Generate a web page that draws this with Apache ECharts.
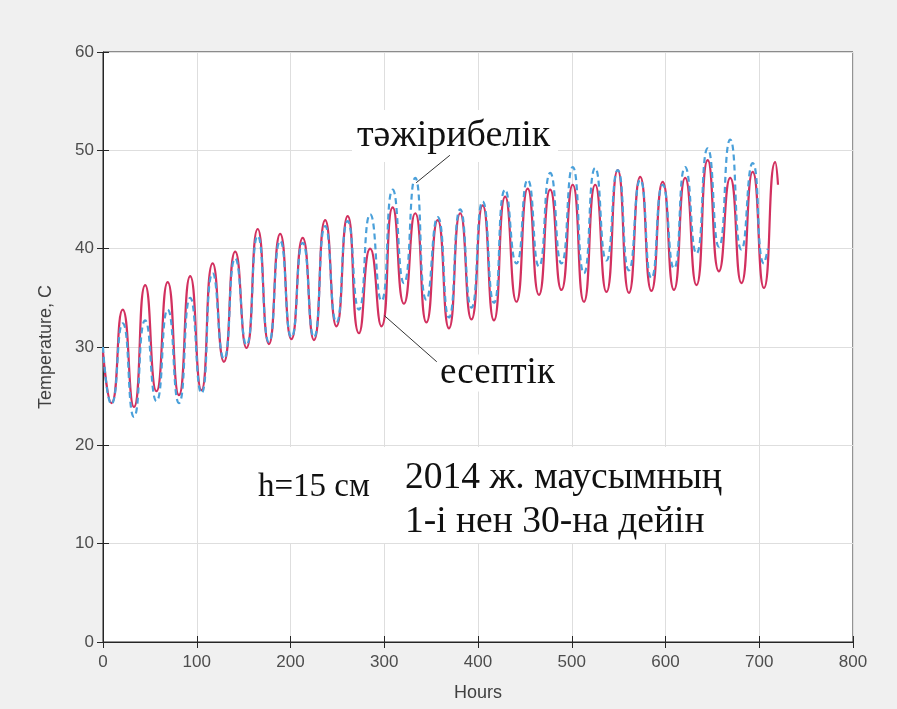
<!DOCTYPE html>
<html>
<head>
<meta charset="utf-8">
<script src="https://cdn.jsdelivr.net/npm/echarts@6/dist/echarts.min.js"></script>
<style>
  html, body { margin: 0; padding: 0; background: #f0f0f0; }
  #chart { width: 897px; height: 709px; }
</style>
</head>
<body>
<div id="chart"></div>
<script>
// computed curve (есептік): daily troughs and peaks
var calcHours = [0, 9, 21, 33, 45, 57, 69, 81, 93, 105, 117, 129, 141, 153, 165, 177, 189, 201, 213,
  225, 237, 249, 261, 273, 285, 297, 309, 321, 333, 345, 357, 369, 381, 393, 405, 417, 429, 441, 453,
  465, 477, 489, 501, 513, 525, 537, 549, 561, 573, 585, 597, 609, 621, 633, 645, 657, 669, 681, 693,
  705, 717, 720];
var calcTemp = [29.5, 24.3, 33.8, 23.9, 36.3, 25.5, 36.6, 25.1, 37.2, 25.6, 38.5, 28.5, 39.7, 29.9, 42.0,
  30.3, 41.5, 30.8, 41.1, 30.7, 42.9, 32.1, 43.3, 31.4, 40.0, 32.1, 44.2, 34.4, 43.6, 32.5, 42.9, 31.9,
  43.6, 32.8, 44.4, 32.7, 45.3, 34.6, 46.1, 35.3, 46.0, 35.8, 46.5, 34.6, 46.5, 35.6, 48.0, 35.5, 47.3,
  35.7, 46.8, 35.8, 47.2, 36.3, 49.0, 37.7, 47.2, 36.5, 47.8, 36.0, 48.8, 46.5];

// measured curve (тәжірибелік)
var expHours = [0, 9, 21, 33, 45, 57, 69, 81, 93, 105, 117, 129, 141, 153, 165, 177, 189, 201, 213,
  225, 237, 249, 261, 273, 285, 297, 309, 321, 333, 345, 357, 369, 381, 393, 405, 417, 429, 441, 453,
  465, 477, 489, 501, 513, 525, 537, 549, 561, 573, 585, 597, 609, 621, 633, 645, 657, 669, 681, 693,
  705, 709];
var expTemp = [30.0, 24.2, 32.4, 22.9, 32.7, 24.5, 33.8, 24.3, 35.0, 25.3, 37.5, 28.8, 39.0, 30.2, 41.3,
  30.5, 40.8, 31.0, 40.6, 31.0, 42.3, 32.5, 42.8, 33.8, 43.5, 34.7, 46.0, 36.5, 47.2, 34.8, 43.2, 33.0,
  44.0, 34.0, 44.8, 34.5, 46.0, 38.5, 47.0, 38.2, 47.7, 38.5, 48.3, 37.5, 48.2, 38.8, 48.0, 37.8, 47.0,
  37.0, 46.5, 38.0, 48.3, 39.5, 50.2, 40.2, 51.1, 39.9, 48.7, 38.5, 40.0];

var xMax = 800, xStep = 100;
var yMax = 60, yStep = 10;

function pairs(xs, ys) {
  var out = [];
  for (var i = 0; i < xs.length; i++) out.push([xs[i], ys[i]]);
  return out;
}

var serif = '"Liberation Serif", "Times New Roman", serif';
var sans = '"Liberation Sans", Arial, sans-serif';
var axisColor = '#262626';

var myChart = echarts.init(document.getElementById('chart'));

var option = {
  backgroundColor: '#f0f0f0',
  animation: false,
  grid: {
    left: 103, right: 44, top: 52, bottom: 67,
    show: true, backgroundColor: '#ffffff', borderColor: axisColor, borderWidth: 1
  },
  xAxis: [{
    type: 'value', min: 0, max: xMax, interval: xStep,
    name: 'Hours', nameLocation: 'middle', nameGap: 42,
    nameTextStyle: { color: '#404040', fontSize: 18, fontFamily: sans },
    axisLine: { show: true, lineStyle: { color: axisColor } },
    axisTick: { inside: true, length: 6, lineStyle: { color: axisColor } },
    axisLabel: { color: '#4d4d4d', fontSize: 17, fontFamily: sans, margin: 12 },
    splitLine: { show: true, lineStyle: { color: '#dedede' } }
  }, {
    type: 'value', min: 0, max: xMax, interval: xStep, position: 'top',
    axisLine: { show: false },
    axisTick: { inside: true, length: 6, lineStyle: { color: axisColor } },
    axisLabel: { show: false }, splitLine: { show: false }
  }],
  yAxis: [{
    type: 'value', min: 0, max: yMax, interval: yStep,
    name: 'Temperature, C', nameLocation: 'middle', nameGap: 48,
    nameTextStyle: { color: '#404040', fontSize: 18, fontFamily: sans },
    axisLine: { show: true, lineStyle: { color: axisColor } },
    axisTick: { inside: true, length: 6, lineStyle: { color: axisColor } },
    axisLabel: { color: '#4d4d4d', fontSize: 17, fontFamily: sans, margin: 9 },
    splitLine: { show: true, lineStyle: { color: '#dedede' } }
  }, {
    type: 'value', min: 0, max: yMax, interval: yStep, position: 'right',
    axisLine: { show: false },
    axisTick: { inside: true, length: 6, lineStyle: { color: axisColor } },
    axisLabel: { show: false }, splitLine: { show: false }
  }],
  series: [{
    name: 'есептік',
    type: 'line',
    data: pairs(calcHours, calcTemp),
    showSymbol: false,
    smooth: 0.6,
    z: 3,
    lineStyle: { color: '#d2305f', width: 2.2 },
    markLine: {
      silent: true, symbol: 'none', label: { show: false },
      lineStyle: { color: '#333333', width: 1, type: 'solid' },
      data: [
        [{ coord: [300, 33.2] }, { coord: [356, 28.5] }],
        [{ coord: [334, 46.7] }, { coord: [370, 49.5] }]
      ]
    }
  }, {
    name: 'тәжірибелік',
    type: 'line',
    data: pairs(expHours, expTemp),
    showSymbol: false,
    smooth: 0.6,
    z: 4,
    lineStyle: { color: '#4aa0da', width: 2.2, type: [6, 4] }
  }],
  graphic: [
    { type: 'rect', z: 1, shape: { x: 352, y: 110, width: 206, height: 52 }, style: { fill: '#ffffff' } },
    { type: 'rect', z: 1, shape: { x: 245, y: 447, width: 495, height: 96 }, style: { fill: '#ffffff' } },
    { type: 'text', z: 5, style: { x: 357, y: 136, text: 'тәжірибелік', font: '38px ' + serif, fill: '#111', verticalAlign: 'middle' } },
    { type: 'text', z: 5, style: { x: 440, y: 373, text: 'есептік', font: '37px ' + serif, fill: '#111', verticalAlign: 'middle', backgroundColor: '#fff' } },
    { type: 'text', z: 5, style: { x: 258, y: 487, text: 'h=15 см', font: '33px ' + serif, fill: '#111', verticalAlign: 'middle' } },
    { type: 'text', z: 5, style: { x: 405, y: 478, text: '2014 ж. маусымның', font: '37.5px ' + serif, fill: '#111', verticalAlign: 'middle' } },
    { type: 'text', z: 5, style: { x: 405, y: 522, text: '1-і нен 30-на дейін', font: '37.5px ' + serif, fill: '#111', verticalAlign: 'middle' } }
  ]
};

myChart.setOption(option);
</script>
</body>
</html>
